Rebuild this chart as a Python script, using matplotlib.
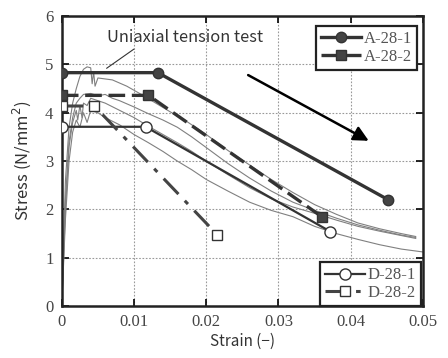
import matplotlib.pyplot as plt
import numpy as np

# model curves (strain, stress)
a281_x = [0.0, 0.0133, 0.0452]
a281_y = [4.83, 4.83, 2.20]
a282_x = [0.0, 0.0120, 0.0360]
a282_y = [4.36, 4.36, 1.85]
d281_x = [0.0, 0.0116, 0.0372]
d281_y = [3.71, 3.71, 1.54]
d282_x = [0.0, 0.0045, 0.0215]
d282_y = [4.14, 4.14, 1.48]

# uniaxial tension test curves
u1_x = [0.0, 0.0005, 0.001, 0.0015, 0.002, 0.0025, 0.003, 0.0035, 0.004, 0.0042, 0.0044,
        0.0046, 0.005, 0.006, 0.007, 0.009, 0.011, 0.013, 0.015, 0.017, 0.020, 0.023,
        0.026, 0.029, 0.032, 0.035, 0.038, 0.041, 0.044, 0.047, 0.049]
u1_y = [0.0, 2.6, 3.7, 4.2, 4.5, 4.75, 4.9, 4.95, 4.93, 4.6, 4.85, 4.55, 4.72, 4.7, 4.68,
        4.55, 4.38, 4.2, 4.02, 3.85, 3.55, 3.22, 2.92, 2.62, 2.35, 2.1, 1.9, 1.72, 1.6, 1.5, 1.44]
u2_x = [0.0, 0.0005, 0.001, 0.0015, 0.002, 0.0025, 0.003, 0.004, 0.005, 0.006, 0.007,
        0.008, 0.010, 0.012, 0.014, 0.016, 0.018, 0.020, 0.023, 0.026, 0.029, 0.032,
        0.035, 0.038, 0.041, 0.044, 0.047, 0.049]
u2_y = [0.0, 2.2, 3.4, 3.9, 4.2, 4.3, 4.38, 4.4, 4.35, 4.38, 4.3, 4.25, 4.12, 3.98, 3.85,
        3.7, 3.5, 3.28, 2.95, 2.65, 2.38, 2.15, 1.98, 1.82, 1.68, 1.57, 1.47, 1.42]
u3_x = [0.0, 0.0005, 0.001, 0.0015, 0.002, 0.0022, 0.0025, 0.0028, 0.003, 0.0035, 0.004,
        0.005, 0.006, 0.008, 0.010, 0.012, 0.014, 0.016, 0.018, 0.020, 0.023, 0.026,
        0.029, 0.032, 0.035, 0.038, 0.041, 0.044, 0.047, 0.049]
u3_y = [0.0, 2.0, 3.3, 3.8, 4.05, 3.85, 4.15, 3.9, 4.2, 4.15, 4.3, 4.25, 4.2, 4.05, 3.9,
        3.72, 3.55, 3.38, 3.2, 3.0, 2.72, 2.45, 2.22, 2.05, 1.92, 1.78, 1.65, 1.55, 1.46, 1.4]
u4_x = [0.0, 0.0005, 0.001, 0.0015, 0.002, 0.0025, 0.003, 0.0035, 0.004, 0.005, 0.006,
        0.008, 0.010, 0.012, 0.014, 0.016, 0.018, 0.020, 0.023, 0.026, 0.029, 0.032,
        0.035, 0.038, 0.041, 0.044, 0.047, 0.050]
u4_y = [0.0, 1.8, 3.0, 3.6, 3.85, 3.7, 4.0, 3.8, 4.05, 4.0, 3.9, 3.75, 3.55, 3.38, 3.2,
        3.0, 2.82, 2.62, 2.38, 2.15, 1.98, 1.85, 1.65, 1.5, 1.38, 1.27, 1.18, 1.12]

xticks = [0, 0.01, 0.02, 0.03, 0.04, 0.05]
xtick_labels = ["0", "0.01", "0.02", "0.03", "0.04", "0.05"]
yticks = [0, 1, 2, 3, 4, 5, 6]

serif = "Liberation Serif"
sans = ["Noto Sans CJK JP", "DejaVu Sans"]

fig = plt.figure(figsize=(4.48, 3.58), dpi=100)
ax = fig.add_axes([0.138, 0.145, 0.806, 0.81])

# test curves
for ux, uy in [(u1_x, u1_y), (u2_x, u2_y), (u3_x, u3_y), (u4_x, u4_y)]:
    ax.plot(ux, uy, color="#808080", lw=0.8, zorder=2)

l1, = ax.plot(a281_x, a281_y, color="#333333", lw=2.4, marker="o", ms=7.5,
              mfc="#444444", mec="#333333", label="A-28-1", zorder=4)
l2, = ax.plot(a282_x, a282_y, color="#333333", lw=2.4, dashes=(5, 2), marker="s", ms=6.5,
              mfc="#444444", mec="#333333", label="A-28-2", zorder=4)
l3, = ax.plot(d281_x, d281_y, color="#333333", lw=1.6, marker="o", ms=8,
              mfc="white", mec="#333333", mew=1.0, label="D-28-1", zorder=4)
l4, = ax.plot(d282_x, d282_y, color="#444444", lw=2.2, dashes=(7, 3, 1.5, 3), marker="s", ms=7,
              mfc="white", mec="#333333", mew=1.0, label="D-28-2", zorder=4)

ax.set_xlim(0, 0.05)
ax.set_ylim(0, 6)
ax.set_xticks(xticks)
ax.set_xticklabels(xtick_labels)
ax.set_yticks(yticks)
ax.tick_params(direction="in", top=True, right=True, length=5, width=1.2, labelsize=12,
               labelcolor="#444444", pad=6)
for lab in ax.get_xticklabels() + ax.get_yticklabels():
    lab.set_family(serif)
ax.grid(True, linestyle=(0, (1.5, 1.5)), color="#999999", lw=0.8)
for s in ax.spines.values():
    s.set_linewidth(1.8)
    s.set_color("#222222")

ax.set_xlabel("Strain (\u2212)", fontsize=11, family=sans, color="#333333", labelpad=2)
ax.set_ylabel("Stress (N/mm$^2$)", fontsize=12, family=sans, color="#333333", labelpad=9)

# annotation for test curve
ax.annotate("Uniaxial tension test", xy=(0.0062, 4.92), xytext=(0.0062, 5.55),
            fontsize=11.8, family=sans, color="#333333", va="center", ha="left",
            arrowprops=dict(arrowstyle="-", color="#333333", lw=0.8,
                            shrinkA=0, shrinkB=0,
                            relpos=(0.2, 0.0)))

# arrow
ax.annotate("", xy=(0.0425, 3.42), xytext=(0.0258, 4.78),
            arrowprops=dict(arrowstyle="-|>,head_length=0.9,head_width=0.45",
                            color="black", lw=1.8, shrinkA=0, shrinkB=0))

leg1 = ax.legend(handles=[l1, l2], loc="upper right", bbox_to_anchor=(0.985, 0.965),
                 prop={"family": serif, "size": 12}, fancybox=False, edgecolor="#222222",
                 framealpha=1, handlelength=2.4, handletextpad=0.2, borderpad=0.3,
                 labelspacing=0.1, borderaxespad=0)
leg1.get_frame().set_linewidth(1.6)
for t in leg1.get_texts():
    t.set_color("#555555")
ax.add_artist(leg1)

leg2 = ax.legend(handles=[l3, l4], loc="lower right", bbox_to_anchor=(0.995, 0.0),
                 prop={"family": serif, "size": 12}, fancybox=False, edgecolor="#222222",
                 framealpha=1, handlelength=2.4, handletextpad=0.2, borderpad=0.3,
                 labelspacing=0.1, borderaxespad=0)
leg2.get_frame().set_linewidth(1.6)
for t in leg2.get_texts():
    t.set_color("#555555")

fig.savefig("out.png", dpi=100)
